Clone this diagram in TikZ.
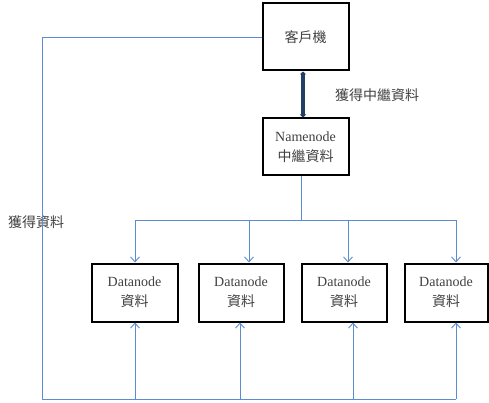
\documentclass[tikz,border=0pt]{standalone}
\usepackage{fontspec}
\setmainfont{Liberation Serif}
\newfontfamily\cjk{Noto Sans CJK TC}
\usetikzlibrary{arrows.meta}
\definecolor{lineblue}{HTML}{5B8BD0}
\definecolor{navy}{HTML}{243F66}
\definecolor{txt}{HTML}{404040}
\begin{document}
\begin{tikzpicture}[x=1pt,y=-1pt,
  box/.style={draw=black,line width=2pt,fill=white,inner sep=0pt,align=center,
    font=\fontsize{14}{21}\selectfont,text=txt},
  conn/.style={draw=lineblue,line width=0.9pt},
  arr/.style={conn,-{Straight Barb[length=5pt,width=9pt,line width=0.9pt]}},
  lbl/.style={font=\fontsize{14}{17}\selectfont\cjk,text=txt,inner sep=0pt}]
\useasboundingbox (0,0) rectangle (489,403);
\node[box,minimum width=86pt,minimum height=67pt] (cl) at (305.5,37) {\cjk 客戶機};
\node[box,minimum width=86pt,minimum height=57pt] (nn) at (305.5,147) {Namenode\\[-1pt]{\cjk 中繼資料}};
\node[box,minimum width=86pt,minimum height=58pt] (d1) at (134.5,292.5) {Datanode\\[-1pt]{\cjk 資料}};
\node[box,minimum width=85pt,minimum height=58pt] (d2) at (241,292.5) {Datanode\\[-1pt]{\cjk 資料}};
\node[box,minimum width=85pt,minimum height=58pt] (d3) at (344,292.5) {Datanode\\[-1pt]{\cjk 資料}};
\node[box,minimum width=83pt,minimum height=58pt] (d4) at (446,292.5) {Datanode\\[-1pt]{\cjk 資料}};
\node[lbl,anchor=west] (l1) at (335,95) {獲得中繼資料};
\node[lbl,anchor=west] (l2) at (8,222) {獲得資料};
% bus coordinates
\coordinate (nb) at (301,220);
\coordinate (t1) at (135,220);
\coordinate (t2) at (249,220);
\coordinate (t3) at (348,220);
\coordinate (t4) at (456,220);
\coordinate (lc) at (42,37);
\coordinate (bl) at (42,399);
\coordinate (b1) at (135,399);
\coordinate (b2) at (240,399);
\coordinate (b3) at (353,399);
\coordinate (b4) at (456,399);
% thick double arrow
\draw[navy,line width=3.2pt,{Triangle[length=3pt,width=6pt]}-{Triangle[length=3pt,width=6pt]}]
  ([xshift=-2.5pt]cl.south) -- ([xshift=-2.5pt]nn.north);
% namenode to datanodes
\draw[conn] (nn.south -| nb) -- (nb);
\draw[conn] (t1) -- (t4);
\draw[arr] (t1) -- (t1 |- d1.north);
\draw[arr] (t2) -- (t2 |- d2.north);
\draw[arr] (t3) -- (t3 |- d3.north);
\draw[arr] (t4) -- (t4 |- d4.north);
% client to datanodes
\draw[conn] (cl.west) -- (lc) -- (bl) -- (b4);
\draw[arr] (b1) -- (b1 |- d1.south);
\draw[arr] (b2) -- (b2 |- d2.south);
\draw[arr] (b3) -- (b3 |- d3.south);
\draw[arr] (b4) -- (b4 |- d4.south);
\end{tikzpicture}
\end{document}
